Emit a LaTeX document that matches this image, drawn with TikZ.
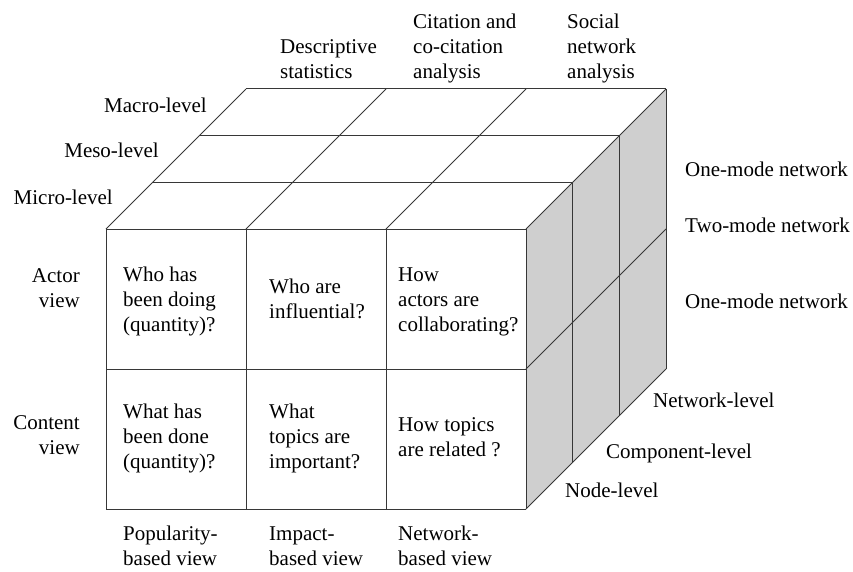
\documentclass[tikz,border=0pt]{standalone}
\usepackage{fontspec}
\setmainfont{Liberation Serif}
\usetikzlibrary{positioning}
\definecolor{sidegray}{RGB}{207,207,207}
\definecolor{edgegray}{RGB}{55,55,55}

\begin{document}
\begin{tikzpicture}[x=1pt,y=-1pt,
        font=\fontsize{21}{25}\selectfont,
        grid line/.style={draw=edgegray,line width=1pt},
        side face/.style={fill=sidegray},
        left text/.style={inner sep=0pt,align=left,anchor=base west},
        right text/.style={inner sep=0pt,align=right,anchor=base east}]

  \useasboundingbox (0,0) rectangle (853,571);

  % shaded right face
  \fill[side face] (526,229) -- (666,89) -- (666,369) -- (526,509) -- cycle;

  % top face
  \foreach \k in {0,1,2,3}
    \draw[grid line] ({106+46.67*\k},{229-46.67*\k}) -- ({526+46.67*\k},{229-46.67*\k});
  \foreach \j in {0,1,2,3}
    \draw[grid line] ({106+140*\j},229) -- ({246+140*\j},89);

  % right face
  \foreach \k in {1,2,3}
    \draw[grid line] ({526+46.67*\k},{229-46.67*\k}) -- ({526+46.67*\k},{509-46.67*\k});
  \foreach \i in {1,2}
    \draw[grid line] (526,{229+140*\i}) -- (666,{89+140*\i});

  % front face
  \foreach \j in {0,1,2,3}
    \draw[grid line] ({106+140*\j},229) -- ({106+140*\j},509);
  \foreach \i in {0,1,2}
    \draw[grid line] (106,{229+140*\i}) -- (526,{229+140*\i});

  % method labels (anchored at the last line)
  \node[left text] (desc) at (280,78) {Descriptive\\statistics};
  \node[left text] (cite) at (413,78) {Citation and\\co-citation\\analysis};
  \node[left text] (sna) at (567,78) {Social\\network\\analysis};

  % level labels
  \node[right text] (macro) at (207,112) {Macro-level};
  \node[right text] (meso) at (159,157) {Meso-level};
  \node[right text] (micro) at (113,204) {Micro-level};

  % view labels
  \node[right text] (actor) at (80,307) {Actor\\view};
  \node[right text] (content) at (80,454) {Content\\view};
  \node[left text] (pop) at (123,565) {Popularity-\\based view};
  \node[left text] (impact) at (269,565) {Impact-\\based view};
  \node[left text] (netview) at (398,565) {Network-\\based view};

  % network labels
  \node[left text] (onemodeA) at (685,176) {One-mode network};
  \node[left text] (twomode) at (685,232) {Two-mode network};
  \node[left text] (onemodeB) at (685,308) {One-mode network};
  \node[left text] (netlevel) at (653,407) {Network-level};
  \node[left text] (complevel) at (606,458) {Component-level};
  \node[left text] (nodelevel) at (565,497) {Node-level};

  % questions
  \node[left text] (q11) at (123,331) {Who has\\been doing\\(quantity)?};
  \node[left text] (q12) at (269,318) {Who are\\influential?};
  \node[left text] (q13) at (398,331) {How\\actors are\\collaborating?};
  \node[left text] (q21) at (123,468) {What has\\been done\\(quantity)?};
  \node[left text] (q22) at (269,468) {What\\topics are\\important?};
  \node[left text] (q23) at (398,456) {How topics\\are related ?};
\end{tikzpicture}
\end{document}
